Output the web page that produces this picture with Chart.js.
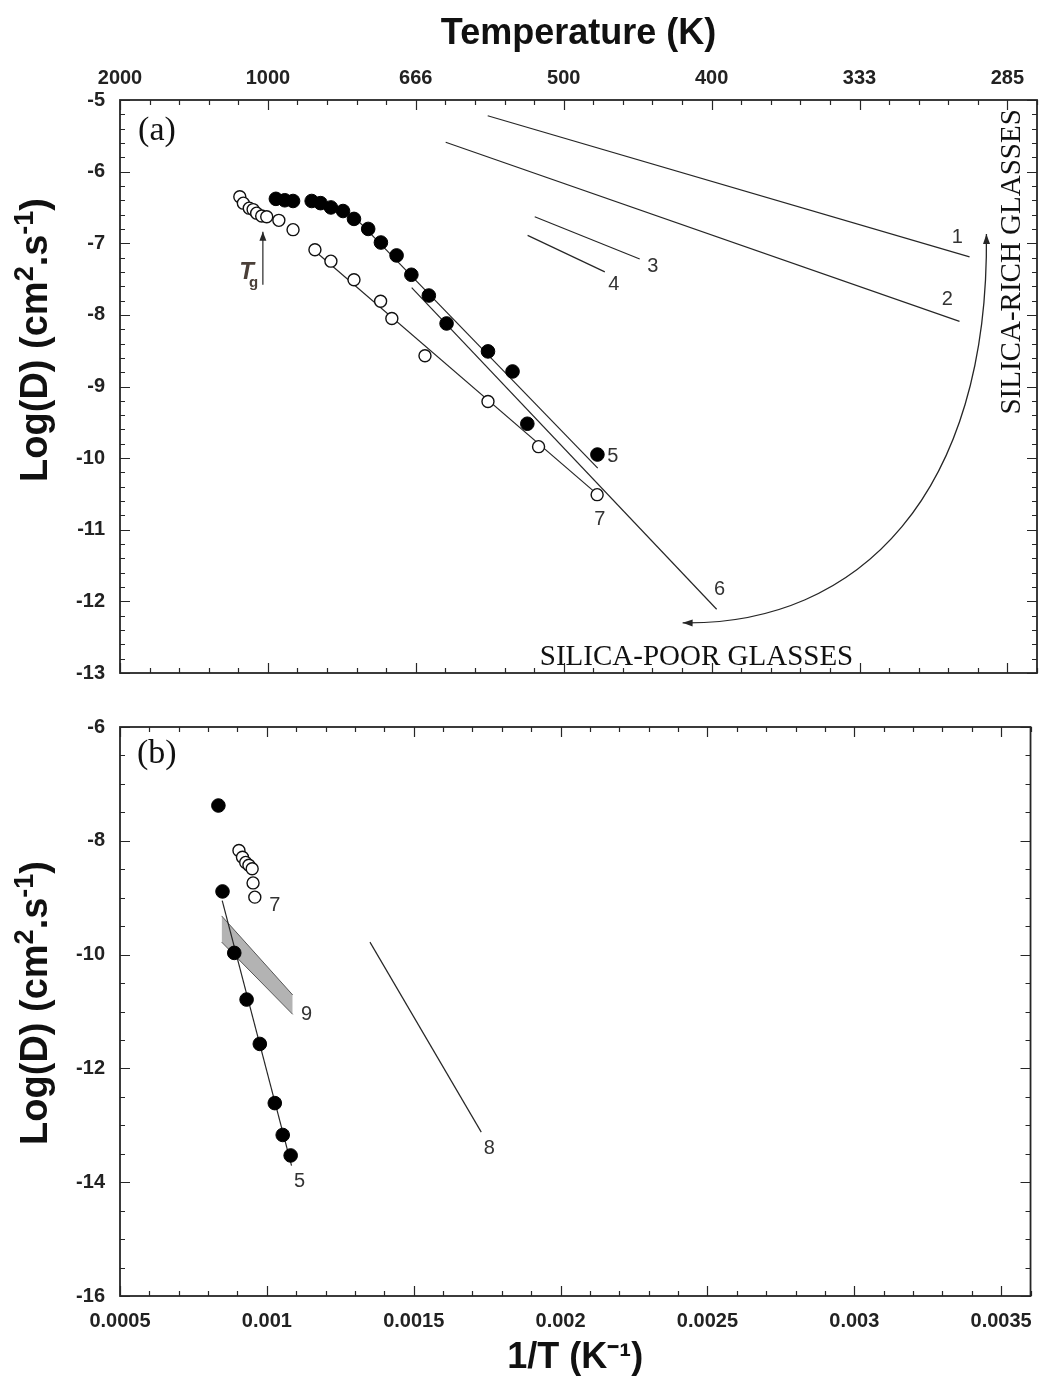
<!DOCTYPE html>
<html>
<head>
<meta charset="utf-8">
<script src="https://cdn.jsdelivr.net/npm/chart.js@4.4.1/dist/chart.umd.min.js"></script>
<style>
  body { margin: 0; background: #fff; }
  #wrap { position: relative; width: 1045px; height: 1380px; }
  canvas { position: absolute; left: 0; }
</style>
</head>
<body>
<div id="wrap">
  <canvas id="chartA" width="1045" height="700" style="top:0"></canvas>
  <canvas id="chartB" width="1045" height="680" style="top:700px"></canvas>
</div>
<script>
// axis ticks: 1/T values, their labels and the matching temperatures
const xTicks = [0.0005, 0.001, 0.0015, 0.002, 0.0025, 0.003, 0.0035];
const xTickLabels = ['0.0005', '0.001', '0.0015', '0.002', '0.0025', '0.003', '0.0035'];
const tempLabels = ['2000', '1000', '666', '500', '400', '333', '285'];
const yTicksA = [-13, -12, -11, -10, -9, -8, -7, -6, -5];
const yTicksB = [-16, -14, -12, -10, -8, -6];

// panel (a) - measured points
const openA = [
  {x: 0.000905, y: -6.35}, {x: 0.000917, y: -6.44}, {x: 0.000937, y: -6.51},
  {x: 0.000950, y: -6.53}, {x: 0.000962, y: -6.58}, {x: 0.000979, y: -6.62},
  {x: 0.000996, y: -6.63}, {x: 0.001037, y: -6.68}, {x: 0.001085, y: -6.81},
  {x: 0.001159, y: -7.09}, {x: 0.001213, y: -7.25}, {x: 0.001291, y: -7.51},
  {x: 0.001381, y: -7.81}, {x: 0.001419, y: -8.05}, {x: 0.001531, y: -8.57},
  {x: 0.001744, y: -9.21}, {x: 0.001915, y: -9.84}, {x: 0.002113, y: -10.51}
];
const filledA = [
  {x: 0.001027, y: -6.38}, {x: 0.001057, y: -6.40}, {x: 0.001085, y: -6.41},
  {x: 0.001148, y: -6.41}, {x: 0.001178, y: -6.44}, {x: 0.001213, y: -6.50},
  {x: 0.001254, y: -6.55}, {x: 0.001291, y: -6.66}, {x: 0.001339, y: -6.80},
  {x: 0.001382, y: -6.99}, {x: 0.001435, y: -7.17}, {x: 0.001485, y: -7.44},
  {x: 0.001544, y: -7.73}, {x: 0.001604, y: -8.12}, {x: 0.001744, y: -8.51},
  {x: 0.001827, y: -8.79}, {x: 0.001877, y: -9.52}, {x: 0.002114, y: -9.95}
];
// panel (a) - Arrhenius lines 1..7
const line1 = [{x: 0.001743, y: -5.22}, {x: 0.003372, y: -7.19}];
const line2 = [{x: 0.001601, y: -5.59}, {x: 0.003338, y: -8.09}];
const line3 = [{x: 0.001902, y: -6.63}, {x: 0.002257, y: -7.22}];
const line4 = [{x: 0.001878, y: -6.89}, {x: 0.002139, y: -7.40}];
const line5 = [{x: 0.001301, y: -6.67}, {x: 0.002115, y: -10.14}];
const line6 = [{x: 0.001486, y: -7.62}, {x: 0.002517, y: -12.11}];
const line7 = [{x: 0.001145, y: -7.06}, {x: 0.002115, y: -10.51}];

// panel (b)
const filledB = [
  {x: 0.000835, y: -7.38}, {x: 0.000849, y: -8.89}, {x: 0.000889, y: -9.97},
  {x: 0.000931, y: -10.79}, {x: 0.000976, y: -11.57}, {x: 0.001027, y: -12.61},
  {x: 0.001054, y: -13.17}, {x: 0.001081, y: -13.53}
];
const openB = [
  {x: 0.000905, y: -8.17}, {x: 0.000917, y: -8.29}, {x: 0.000928, y: -8.38},
  {x: 0.000939, y: -8.43}, {x: 0.000950, y: -8.49}, {x: 0.000953, y: -8.74},
  {x: 0.000959, y: -8.99}
];
const line5b = [{x: 0.000848, y: -9.05}, {x: 0.001084, y: -13.71}];
const line8 = [{x: 0.001351, y: -9.78}, {x: 0.001730, y: -13.12}];
const band9Top = [{x: 0.000846, y: -9.32}, {x: 0.001088, y: -10.71}];
const band9Bottom = [{x: 0.000846, y: -9.78}, {x: 0.001088, y: -11.05}];

const SANS = "'Liberation Sans', Arial, sans-serif";
const SERIF = "'Liberation Serif', 'Times New Roman', serif";
Chart.defaults.font.family = SANS;
Chart.defaults.color = '#222';

const INK = '#262626';

// frame + inward ticks on all four sides
const frame = {
  id: 'frame',
  afterDatasetsDraw(chart, args, opts) {
    const {ctx, chartArea: a} = chart;
    const xs = chart.scales.x, ys = chart.scales.y;
    ctx.save();
    ctx.strokeStyle = INK;
    ctx.lineWidth = 1.8;
    ctx.strokeRect(a.left, a.top, a.right - a.left, a.bottom - a.top);
    ctx.lineWidth = 1.2;
    ctx.beginPath();
    for (let i = 5; i <= 36; i++) {
      const px = Math.round(xs.getPixelForValue(i / 10000)) + 0.5;
      const len = i % 5 === 0 ? 10 : 5;
      ctx.moveTo(px, a.bottom); ctx.lineTo(px, a.bottom - len);
      ctx.moveTo(px, a.top); ctx.lineTo(px, a.top + len);
    }
    const n = Math.round((ys.max - ys.min) / opts.minor);
    for (let k = 0; k <= n; k++) {
      const v = ys.min + k * opts.minor;
      const py = Math.round(ys.getPixelForValue(v)) + 0.5;
      const r = v / opts.major;
      const len = Math.abs(r - Math.round(r)) < 1e-6 ? 10 : 5;
      ctx.moveTo(a.left, py); ctx.lineTo(a.left + len, py);
      ctx.moveTo(a.right, py); ctx.lineTo(a.right - len, py);
    }
    ctx.stroke();
    ctx.restore();
  }
};

function arrowHead(ctx, x, y, ang, len, half) {
  ctx.beginPath();
  ctx.moveTo(x, y);
  ctx.lineTo(x - len * Math.cos(ang) + half * Math.sin(ang), y - len * Math.sin(ang) - half * Math.cos(ang));
  ctx.lineTo(x - len * Math.cos(ang) - half * Math.sin(ang), y - len * Math.sin(ang) + half * Math.cos(ang));
  ctx.closePath();
  ctx.fill();
}

// y title with real superscripts, drawn rotated
const titleParts = [
  {text: 'Log(D) (cm', size: 38}, {text: '2', size: 27, sup: true},
  {text: '.s', size: 38}, {text: '-1', size: 27, sup: true}, {text: ')', size: 38}
];

// text labels and arrows, placed in data units
const notes = {
  id: 'notes',
  afterDatasetsDraw(chart, args, opts) {
    const {ctx} = chart;
    const xs = chart.scales.x, ys = chart.scales.y;
    const P = p => [xs.getPixelForValue(p.x), ys.getPixelForValue(p.y)];
    ctx.save();
    ctx.fillStyle = INK;
    ctx.strokeStyle = INK;
    (opts.arrows || []).forEach(ar => {
      const [x0, y0] = P(ar.from), [x1, y1] = P(ar.to);
      ctx.lineWidth = 1.2;
      ctx.beginPath(); ctx.moveTo(x0, y0); ctx.lineTo(x1, y1); ctx.stroke();
      arrowHead(ctx, x1, y1, Math.atan2(y1 - y0, x1 - x0), 9, 3.5);
    });
    (opts.curves || []).forEach(c => {
      const p = c.map(P);
      ctx.lineWidth = 1.3;
      ctx.beginPath();
      ctx.moveTo(p[0][0], p[0][1]);
      ctx.bezierCurveTo(p[1][0], p[1][1], p[2][0], p[2][1], p[3][0], p[3][1]);
      ctx.stroke();
      arrowHead(ctx, p[0][0], p[0][1], Math.atan2(p[0][1] - p[1][1], p[0][0] - p[1][0]), 10, 3.5);
      arrowHead(ctx, p[3][0], p[3][1], Math.atan2(p[3][1] - p[2][1], p[3][0] - p[2][0]), 10, 3.5);
    });
    (opts.texts || []).forEach(t => {
      const [x, y] = P(t);
      ctx.save();
      ctx.translate(x, y);
      if (t.rotate) ctx.rotate(t.rotate);
      ctx.font = t.font || `20px ${SANS}`;
      ctx.fillStyle = t.color || '#333';
      ctx.textAlign = 'center';
      ctx.textBaseline = 'middle';
      ctx.fillText(t.text, 0, 0);
      ctx.restore();
    });
    if (opts.yTitle) {
      const cy = ys.getPixelForValue(opts.yTitle.y);
      ctx.save();
      ctx.translate(opts.yTitle.baseX, cy);
      ctx.rotate(-Math.PI / 2);
      ctx.fillStyle = '#111';
      ctx.textAlign = 'left';
      ctx.textBaseline = 'alphabetic';
      let total = 0;
      titleParts.forEach(p => { ctx.font = `bold ${p.size}px ${SANS}`; p.w = ctx.measureText(p.text).width; total += p.w; });
      let u = -total / 2;
      titleParts.forEach(p => {
        ctx.font = `bold ${p.size}px ${SANS}`;
        ctx.fillText(p.text, u, p.sup ? -14 : 0);
        u += p.w;
      });
      ctx.restore();
    }
    ctx.restore();
  }
};

const lineDs = (data) => ({
  data, showLine: true, pointRadius: 0, borderColor: INK, borderWidth: 1.2, fill: false
});
const openDs = (data) => ({
  data, showLine: false, pointRadius: 6, pointBackgroundColor: '#fff',
  pointBorderColor: '#111', pointBorderWidth: 1.4
});
const filledDs = (data) => ({
  data, showLine: false, pointRadius: 6.8, pointBackgroundColor: '#000',
  pointBorderColor: '#000', pointBorderWidth: 1
});

const tickFont = {size: 20, weight: 'bold'};
const titleFont = {size: 36, weight: 'bold'};

function yAxis(min, max, ticks) {
  return {
    type: 'linear', min, max,
    afterBuildTicks: s => { s.ticks = ticks.map(v => ({value: v})); },
    afterFit: s => { s.width = 120; },
    grid: {display: false, drawTicks: false},
    border: {display: false},
    ticks: {padding: 15, font: tickFont, color: '#222'},
    title: {display: false}
  };
}

new Chart(document.getElementById('chartA'), {
  type: 'scatter',
  data: {
    datasets: [
      filledDs(filledA), openDs(openA),
      lineDs(line1), lineDs(line2), lineDs(line3), lineDs(line4),
      lineDs(line5), lineDs(line6), lineDs(line7)
    ]
  },
  options: {
    responsive: false, animation: false,
    layout: {padding: {left: 0, right: 8, top: 0, bottom: 17}},
    plugins: {
      legend: {display: false}, tooltip: {enabled: false},
      frame: {minor: 0.2, major: 1},
      notes: {
        yTitle: {baseX: 47, y: -8.35},
        arrows: [{from: {x: 0.000983, y: -7.58}, to: {x: 0.000983, y: -6.84}}],
        curves: [[{x: 0.002402, y: -12.30}, {x: 0.0030, y: -12.34}, {x: 0.003439, y: -10.49}, {x: 0.003429, y: -6.87}]],
        texts: [
          {x: 0.000625, y: -5.44, text: '(a)', font: `34px ${SERIF}`, color: '#111'},
          {x: 0.000928, y: -7.40, text: 'T', font: `italic bold 24px ${SANS}`, color: '#4a3f38'},
          {x: 0.000952, y: -7.55, text: 'g', font: `bold 15px ${SANS}`, color: '#4a3f38'},
          {x: 0.003331, y: -6.92, text: '1'}, {x: 0.003297, y: -7.78, text: '2'},
          {x: 0.002301, y: -7.33, text: '3'}, {x: 0.002169, y: -7.57, text: '4'},
          {x: 0.002166, y: -9.98, text: '5'}, {x: 0.002527, y: -11.83, text: '6'},
          {x: 0.002122, y: -10.86, text: '7'},
          {x: 0.002449, y: -12.78, text: 'SILICA-POOR GLASSES', font: `29px ${SERIF}`, color: '#111'},
          {x: 0.003517, y: -7.26, text: 'SILICA-RICH GLASSES', font: `29px ${SERIF}`, color: '#111', rotate: -Math.PI / 2}
        ]
      }
    },
    scales: {
      x: {type: 'linear', min: 0.0005, max: 0.0036, display: false},
      xTop: {
        type: 'linear', position: 'top', min: 0.0005, max: 0.0036,
        afterBuildTicks: s => { s.ticks = xTicks.map(v => ({value: v})); },
        afterFit: s => { s.height = 100; },
        grid: {display: false, drawTicks: false},
        border: {display: false},
        ticks: {callback: (v, i) => tempLabels[i], padding: 10, font: tickFont, color: '#222', maxRotation: 0, autoSkip: false},
        title: {display: true, text: 'Temperature (K)', font: titleFont, color: '#111', padding: {top: 12, bottom: 0}}
      },
      y: yAxis(-13, -5, yTicksA)
    }
  },
  plugins: [frame, notes]
});

new Chart(document.getElementById('chartB'), {
  type: 'scatter',
  data: {
    datasets: [
      filledDs(filledB), openDs(openB),
      lineDs(line5b), lineDs(line8),
      {data: band9Top, showLine: true, pointRadius: 0, borderColor: '#555', borderWidth: 1, fill: false},
      {data: band9Bottom, showLine: true, pointRadius: 0, borderColor: '#555', borderWidth: 1,
       fill: '-1', backgroundColor: '#b3b3b3'}
    ]
  },
  options: {
    responsive: false, animation: false,
    layout: {padding: {left: 0, right: 8, top: 12, bottom: 0}},
    plugins: {
      legend: {display: false}, tooltip: {enabled: false},
      frame: {minor: 0.5, major: 2},
      notes: {
        yTitle: {baseX: 47, y: -10.85},
        texts: [
          {x: 0.000625, y: -6.47, text: '(b)', font: `34px ${SERIF}`, color: '#111'},
          {x: 0.001027, y: -9.13, text: '7'}, {x: 0.001135, y: -11.05, text: '9'},
          {x: 0.001757, y: -13.41, text: '8'}, {x: 0.001111, y: -13.98, text: '5'}
        ]
      }
    },
    scales: {
      x: {
        type: 'linear', position: 'bottom', min: 0.0005, max: 0.0036,
        afterBuildTicks: s => { s.ticks = xTicks.map(v => ({value: v})); },
        afterFit: s => { s.height = 84; },
        grid: {display: false, drawTicks: false},
        border: {display: false},
        ticks: {callback: (v, i) => xTickLabels[i], padding: 13, font: tickFont, color: '#222', maxRotation: 0, autoSkip: false},
        title: {display: true, text: '1/T (K⁻¹)', font: titleFont, color: '#111', padding: {top: 0, bottom: 0}}
      },
      y: yAxis(-16, -6, yTicksB)
    }
  },
  plugins: [frame, notes]
});
</script>
</body>
</html>
